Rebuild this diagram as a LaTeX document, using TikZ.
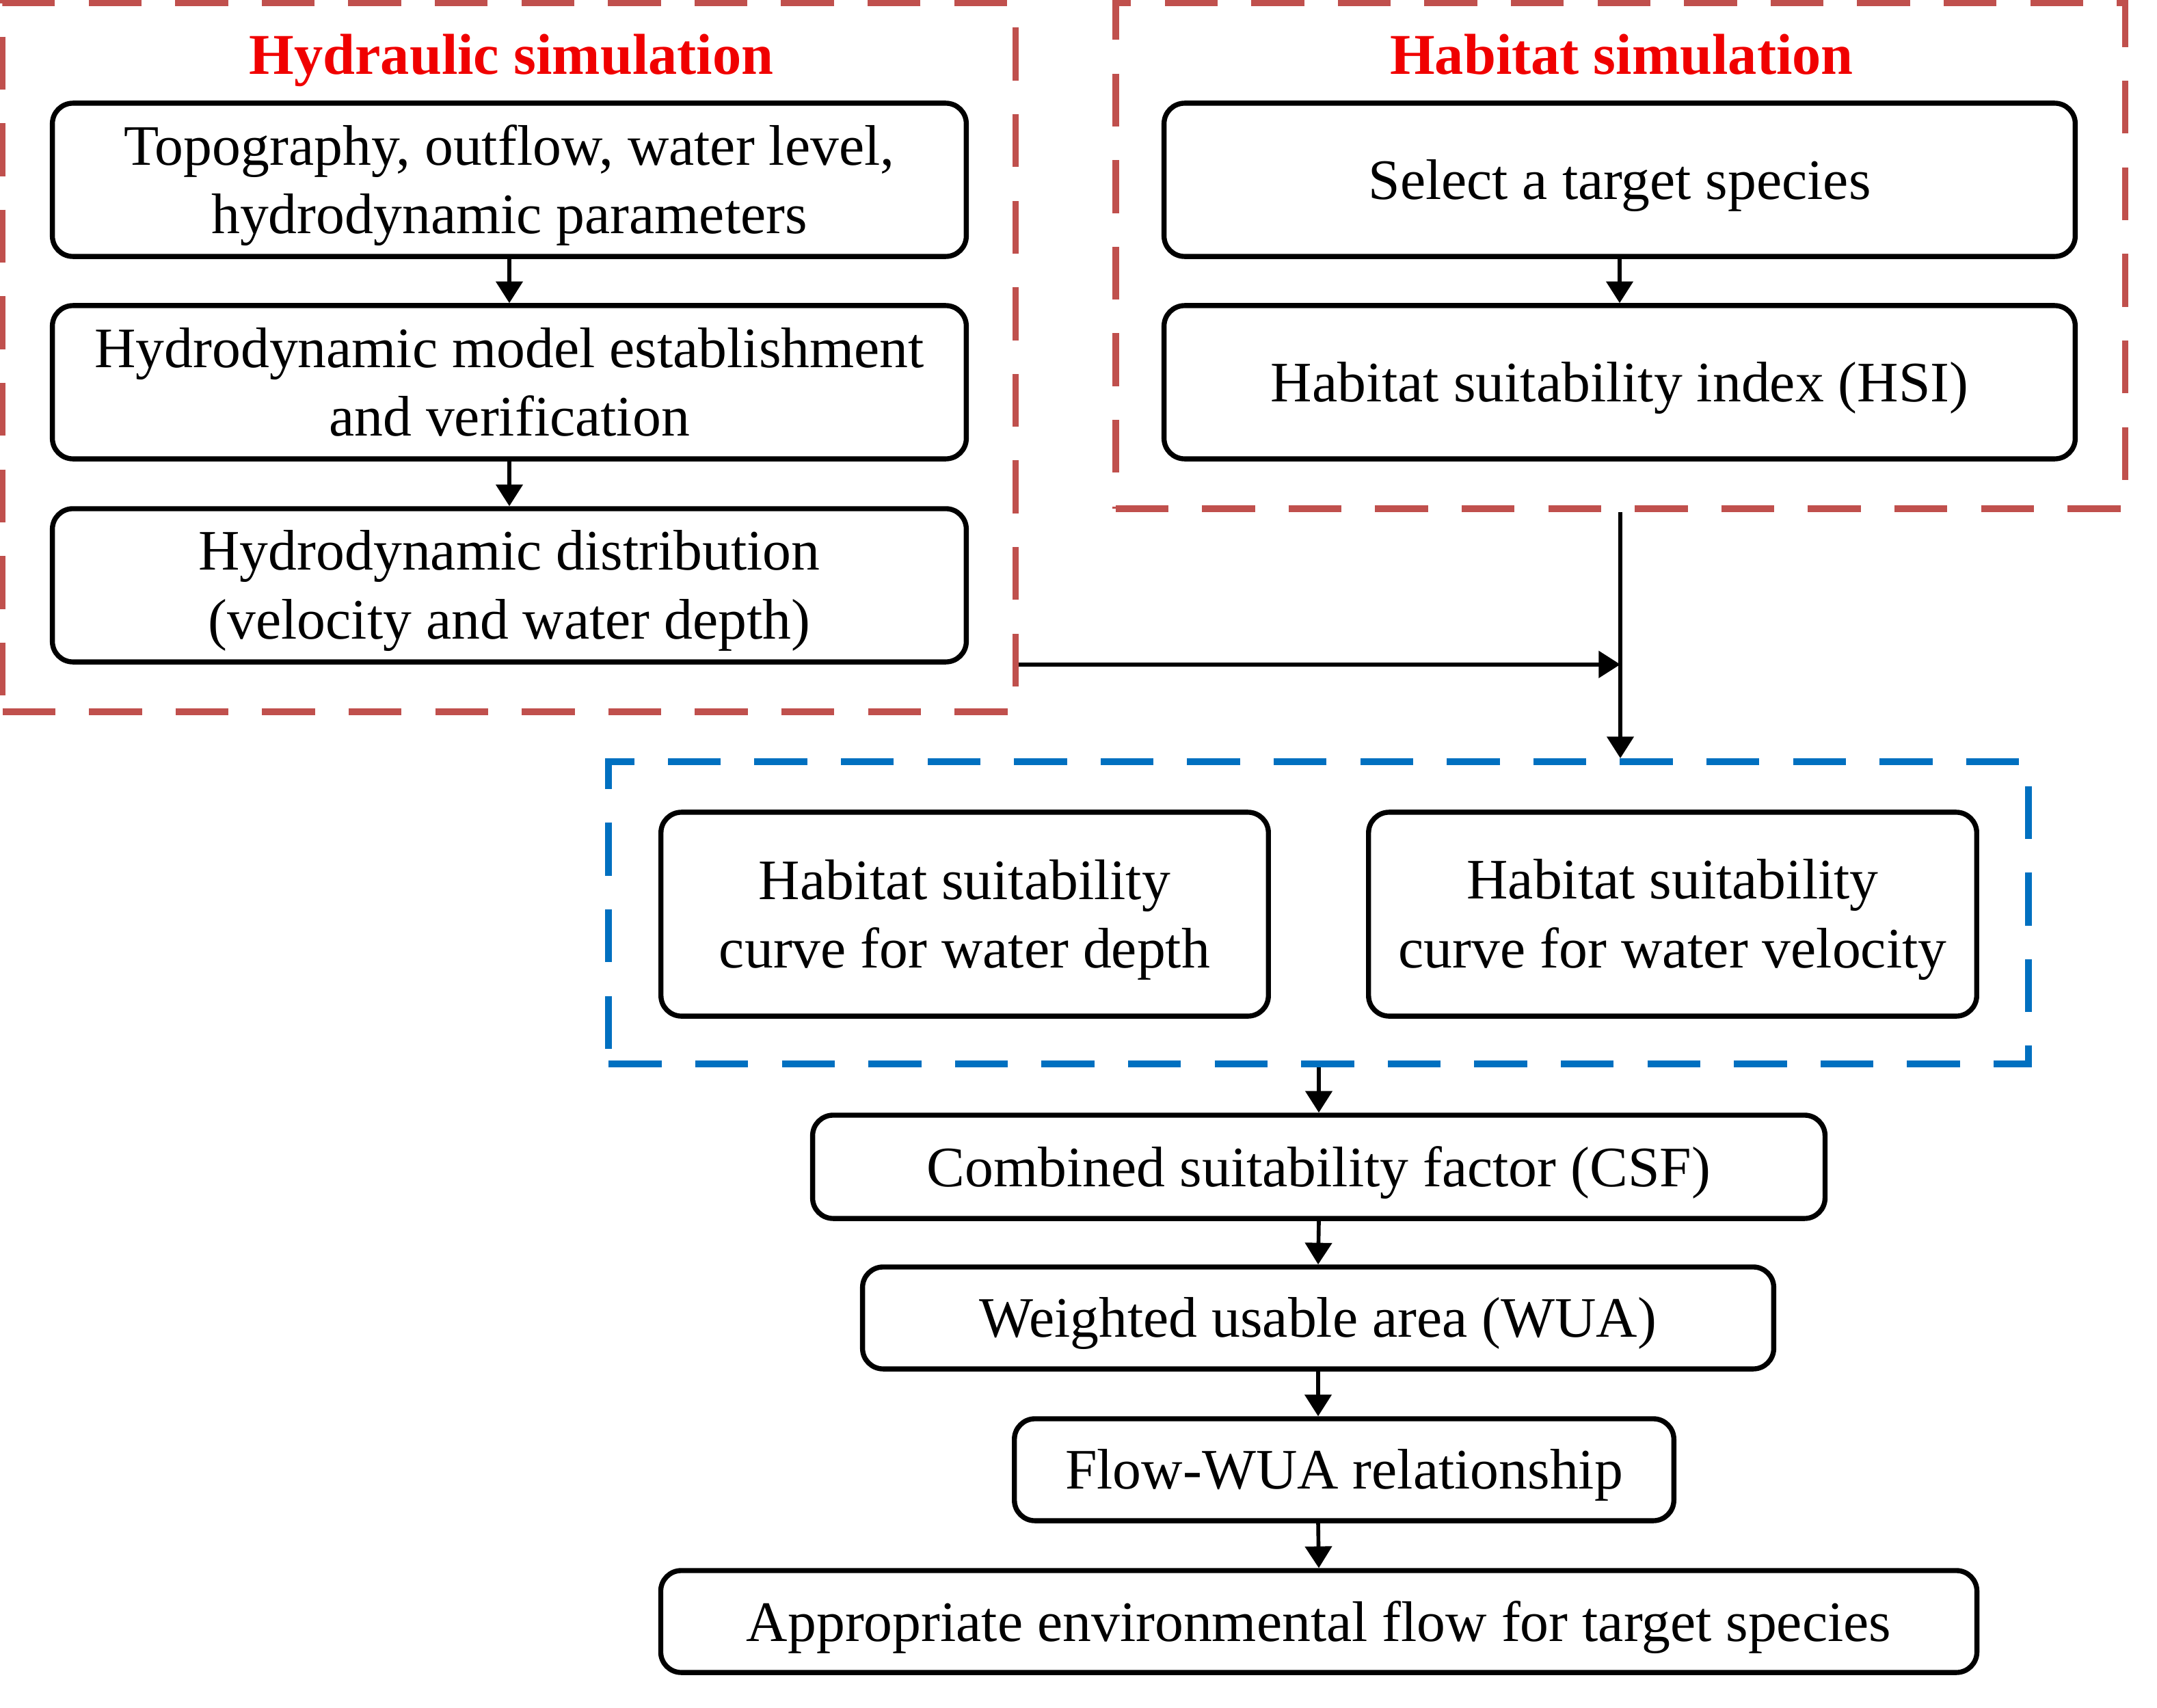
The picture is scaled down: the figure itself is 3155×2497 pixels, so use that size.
\documentclass[tikz,border=0pt]{standalone}
\usepackage{fontspec}
\setmainfont{Liberation Serif}
\usetikzlibrary{arrows.meta,calc}
\definecolor{framered}{RGB}{192,80,77}
\definecolor{frameblue}{RGB}{0,112,192}
\definecolor{titlered}{RGB}{240,0,0}
\begin{document}
\begin{tikzpicture}[x=0.01cm,y=0.01cm,
  box/.style={draw=black, line width=2.1pt, rounded corners=0.3cm, inner sep=0pt},
  bt/.style={inner sep=0pt, align=center, yshift=-2.3pt, font=\fontsize{23.8}{28.5}\selectfont},
  frame/.style={line width=2.8pt, dash pattern=on 22pt off 14pt, inner sep=0pt},
  ttl/.style={text=titlered, font=\fontsize{24}{28.5}\selectfont\bfseries, anchor=base, inner sep=0pt},
  arr/.style={line width=1.6pt, -{Triangle[length=9pt,width=11pt]}}]
\useasboundingbox (0,0) rectangle (3155,-2497);

% frames
\node[frame, draw=framered, minimum width=14.81cm, minimum height=10.37cm] (red1) at (744.5,-522.5) {};
\node[frame, draw=framered, minimum width=14.76cm, minimum height=7.40cm] (red2) at (2370,-374) {};
\node[frame, draw=frameblue, minimum width=20.75cm, minimum height=4.42cm] (blue) at (1928.5,-1335) {};

% titles
\node[ttl] (t1) at (748,-109) {Hydraulic simulation};
\node[ttl] (t2) at (2372,-109) {Habitat simulation};

% hydraulic boxes
\node[box, minimum width=13.36cm, minimum height=2.24cm,
  label={[bt]center:{Topography, outflow, water level,\\hydrodynamic parameters}}] (A) at (745,-263) {};
\node[box, minimum width=13.36cm, minimum height=2.24cm,
  label={[bt, yshift=2.3pt]center:{Hydrodynamic model establishment\\and verification}}] (B) at (745,-559) {};
\node[box, minimum width=13.36cm, minimum height=2.24cm,
  label={[bt]center:{Hydrodynamic distribution\\(velocity and water depth)}}] (C) at (745,-856) {};

% habitat boxes
\node[box, minimum width=13.32cm, minimum height=2.24cm,
  label={[bt]center:{Select a target species}}] (D) at (2369,-263) {};
\node[box, minimum width=13.32cm, minimum height=2.24cm,
  label={[bt]center:{Habitat suitability index (HSI)}}] (E) at (2369,-559) {};

% curves
\node[box, minimum width=8.88cm, minimum height=2.98cm,
  label={[bt]center:{Habitat suitability\\curve for water depth}}] (F) at (1411,-1337) {};
\node[box, minimum width=8.89cm, minimum height=2.98cm,
  label={[bt]center:{Habitat suitability\\curve for water velocity}}] (G) at (2446.5,-1337) {};

% chain
\node[box, minimum width=14.80cm, minimum height=1.51cm,
  label={[bt]center:{Combined suitability factor (CSF)}}] (H) at (1929,-1706.5) {};
\node[box, minimum width=13.32cm, minimum height=1.49cm,
  label={[bt]center:{Weighted usable area (WUA)}}] (I) at (1928,-1927.5) {};
\node[box, minimum width=9.64cm, minimum height=1.49cm,
  label={[bt]center:{Flow-WUA relationship}}] (J) at (1966,-2149.5) {};
\node[box, minimum width=19.24cm, minimum height=1.49cm,
  label={[bt]center:{Appropriate environmental flow for target species}}] (K) at (1929,-2371.5) {};

% connectors
\draw[arr] (A.south) -- (B.north);
\draw[arr] (B.south) -- (C.north);
\draw[arr] (D.south) -- (E.north);
\coordinate (join) at (red2.south |- C.south);
\draw[arr] (red1.east |- C.south) -- (join);
\draw[arr] (red2.south) -- (red2.south |- blue.north);
\draw[arr] (blue.south -| H.north) -- (H.north);
\draw[arr] (H.south) -- (I.north);
\draw[arr] (I.south) -- (I.south |- J.north);
\draw[arr] (I.south |- J.south) -- (K.north);
\end{tikzpicture}
\end{document}
